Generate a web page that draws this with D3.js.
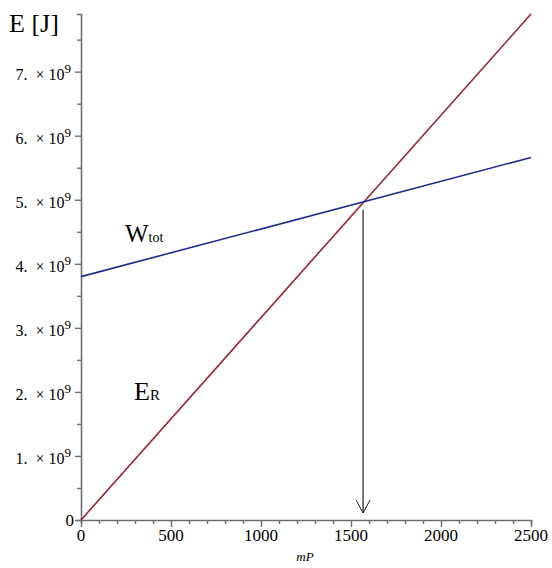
<!DOCTYPE html>
<html>
<head>
<meta charset="utf-8">
<script src="https://cdn.jsdelivr.net/npm/d3@7"></script>
<style>
  body { margin: 0; background: #fff; }
  text { font-family: "Liberation Serif", "DejaVu Serif", serif; }
</style>
</head>
<body>
<div id="chart"></div>
<script>
// data
var xDomain = [0, 2500];
var yDomain = [0, 7.9e9];
var xTicks = [0, 500, 1000, 1500, 2000, 2500];
var yTicks = [0, 1e9, 2e9, 3e9, 4e9, 5e9, 6e9, 7e9];
var mPValues = [0, 2500];
var wTotValues = [3.8e9, 5.66e9];
var eRValues = [0, 7.9e9];
var crossing = { x: 1567, y: 4.97e9 };

var dim = { width: 552, height: 568 };
var margin = { left: 81, right: 21, top: 14, bottom: 48 };

var svg = d3.select("#chart").append("svg")
  .attr("width", dim.width)
  .attr("height", dim.height);

var x = d3.scaleLinear().domain(xDomain).range([margin.left, dim.width - margin.right]);
var y = d3.scaleLinear().domain(yDomain).range([dim.height - margin.bottom, margin.top]);

var axisColor = "#6e6e6e";

// x axis
var xAxis = svg.append("g")
  .attr("transform", "translate(0," + y(0) + ")")
  .call(d3.axisBottom(x).tickValues(d3.range(0, 2501, 100)).tickSize(4).tickFormat(""));
xAxis.select(".domain").attr("stroke", axisColor).attr("stroke-width", 1.6);
xAxis.selectAll(".tick line").attr("stroke", axisColor).attr("stroke-width", 1.4)
  .attr("y2", (d) => d % 500 === 0 ? 7 : 4);

svg.append("g").selectAll("text")
  .data(xTicks)
  .join("text")
  .attr("x", (d) => x(d))
  .attr("y", y(0) + 21)
  .attr("text-anchor", "middle")
  .attr("font-size", 17)
  .text((d) => d);

svg.append("text")
  .attr("x", 305)
  .attr("y", 561)
  .attr("text-anchor", "middle")
  .attr("font-size", 13)
  .attr("font-style", "italic")
  .text("mP");

// y axis
var yAxis = svg.append("g")
  .attr("transform", "translate(" + x(0) + ",0)")
  .call(d3.axisLeft(y).tickValues(d3.range(0, 7.9e9, 0.5e9)).tickSize(4).tickFormat(""));
yAxis.select(".domain").attr("stroke", axisColor).attr("stroke-width", 1.6);
yAxis.selectAll(".tick line").attr("stroke", axisColor).attr("stroke-width", 1.4)
  .attr("x2", (d) => Math.round(d / 1e9 * 2) % 2 === 0 ? -6 : -4);

var yLabels = svg.append("g").selectAll("text")
  .data(yTicks)
  .join("text")
  .attr("x", x(0) - 10)
  .attr("y", (d) => y(d) + 8)
  .attr("text-anchor", "end")
  .attr("font-size", 16);

yLabels.each(function (d) {
  var t = d3.select(this);
  if (d === 0) {
    t.attr("x", x(0) - 7).attr("y", y(0) + 6).attr("font-size", 17).text("0");
    return;
  }
  t.append("tspan").text((d / 1e9) + ".\u2002\u00d7\u00a010");
  t.append("tspan").attr("dy", -7).attr("font-size", 13).text("9");
});

svg.append("text")
  .attr("x", 9)
  .attr("y", 32)
  .attr("font-size", 26)
  .text("E [J]");

// lines
var line = d3.line().x((d) => x(d[0])).y((d) => y(d[1]));

svg.append("path")
  .datum(mPValues.map((v, i) => [v, eRValues[i]]))
  .attr("d", line)
  .attr("fill", "none")
  .attr("stroke", "#9b2335")
  .attr("stroke-width", 1.6);

svg.append("path")
  .datum(mPValues.map((v, i) => [v, wTotValues[i]]))
  .attr("d", line)
  .attr("fill", "none")
  .attr("stroke", "#1f2a8c")
  .attr("stroke-width", 1.6);

// arrow down from the crossing
var ax = x(crossing.x);
svg.append("line")
  .attr("x1", ax).attr("x2", ax)
  .attr("y1", y(crossing.y) + 8)
  .attr("y2", y(0) - 7)
  .attr("stroke", "#222")
  .attr("stroke-width", 1.2);
svg.append("path")
  .attr("d", "M" + (ax - 7) + "," + (y(0) - 20) + "L" + ax + "," + (y(0) - 7) + "L" + (ax + 7) + "," + (y(0) - 20))
  .attr("fill", "none")
  .attr("stroke", "#222")
  .attr("stroke-width", 1);

// curve labels
var wLabel = svg.append("text").attr("x", 125).attr("y", 242).attr("font-size", 25);
wLabel.append("tspan").text("W");
wLabel.append("tspan").attr("font-size", 14).text("tot");

var eLabel = svg.append("text").attr("x", 134).attr("y", 400).attr("font-size", 26);
eLabel.append("tspan").text("E");
eLabel.append("tspan").attr("font-size", 15).text("R");
</script>
</body>
</html>
